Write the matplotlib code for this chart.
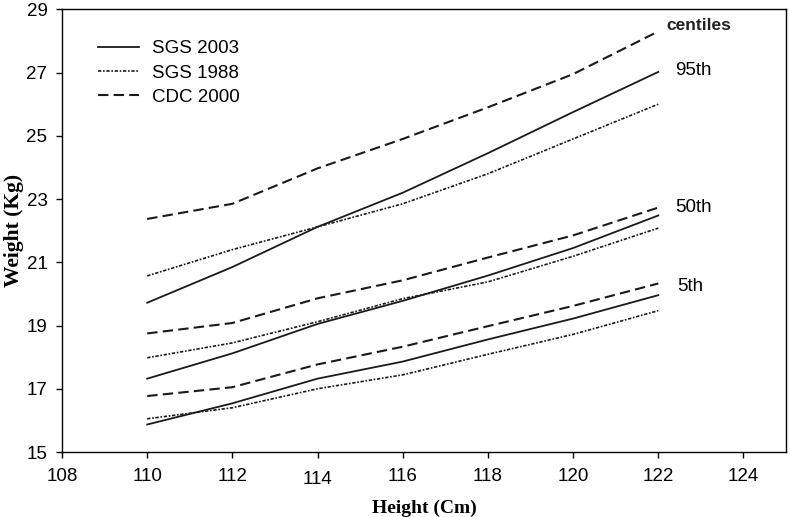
import matplotlib
matplotlib.use("Agg")
import matplotlib.pyplot as plt
from matplotlib.transforms import ScaledTranslation

# ---- data ----
height = [110, 112, 114, 116, 118, 120, 122]

sgs2003_p95 = [19.72, 20.85, 22.12, 23.20, 24.45, 25.75, 27.02]
sgs2003_p50 = [17.32, 18.12, 19.05, 19.78, 20.58, 21.45, 22.48]
sgs2003_p5 = [15.87, 16.54, 17.32, 17.86, 18.56, 19.22, 19.96]

sgs1988_p95 = [20.57, 21.40, 22.12, 22.85, 23.80, 24.90, 26.00]
sgs1988_p50 = [17.98, 18.45, 19.12, 19.85, 20.38, 21.19, 22.08]
sgs1988_p5 = [16.05, 16.40, 17.00, 17.44, 18.09, 18.72, 19.47]

cdc2000_p95 = [22.37, 22.85, 23.97, 24.90, 25.90, 26.95, 28.30]
cdc2000_p50 = [18.75, 19.08, 19.86, 20.43, 21.15, 21.85, 22.73]
cdc2000_p5 = [16.77, 17.05, 17.77, 18.33, 18.98, 19.62, 20.33]

x_ticks = [108, 110, 112, 114, 116, 118, 120, 122, 124]
y_ticks = [15, 17, 19, 21, 23, 25, 27, 29]
series_names = ["SGS 2003", "SGS 1988", "CDC 2000"]
centile_labels = ["95th", "50th", "5th"]

# ---- figure ----
plt.rcParams['font.family'] = ['Liberation Sans', 'DejaVu Sans']
fig = plt.figure(figsize=(7.9, 5.17), dpi=100)
ax = fig.add_axes([0.0785, 0.1257, 0.9165, 0.8563])

col = "#1a1a1a"
sty_sgs03 = dict(color=col, lw=1.3, linestyle="-")
sty_sgs88 = dict(color=col, lw=1.2, linestyle=(0, (2, 1, 1, 1)))
sty_cdc = dict(color=col, lw=1.5, linestyle=(0, (5, 2.5)))

l1, = ax.plot(height, sgs2003_p95, **sty_sgs03)
ax.plot(height, sgs2003_p50, **sty_sgs03)
ax.plot(height, sgs2003_p5, **sty_sgs03)

l2, = ax.plot(height, sgs1988_p95, **sty_sgs88)
ax.plot(height, sgs1988_p50, **sty_sgs88)
ax.plot(height, sgs1988_p5, **sty_sgs88)

l3, = ax.plot(height, cdc2000_p95, **sty_cdc)
ax.plot(height, cdc2000_p50, **sty_cdc)
ax.plot(height, cdc2000_p5, **sty_cdc)

ax.set_xlim(108, 125)
ax.set_ylim(15, 29)
ax.set_xticks(x_ticks)
ax.set_yticks(y_ticks)
ax.tick_params(axis='both', direction='out', length=4.5, width=1.0,
               labelsize=13.5, colors='black')
ax.tick_params(axis='x', pad=7)
ax.tick_params(axis='y', pad=6)
for s in ax.spines.values():
    s.set_linewidth(1.0)
    s.set_color('black')

# the "114" label sits slightly lower in the reference
for lbl in ax.get_xticklabels():
    if lbl.get_text() == "114":
        lbl.set_transform(lbl.get_transform() +
                          ScaledTranslation(0, -2.5 / 72, fig.dpi_scale_trans))

ax.set_xlabel("Height (Cm)", family="Liberation Serif", fontweight="bold",
              fontsize=14, labelpad=8)
ax.set_ylabel("Weight (Kg)", family="Liberation Serif", fontweight="bold",
              fontsize=15.5, labelpad=2)

leg = ax.legend([l1, l2, l3], series_names, loc="upper left",
                bbox_to_anchor=(0.05, 0.93), frameon=False, fontsize=13.5,
                handlelength=2.2, handletextpad=0.65, labelspacing=0.38,
                borderpad=0, borderaxespad=0)

# centile annotations at right end of curves
ax.text(122.2, cdc2000_p95[-1] + 0.2, "centiles", fontsize=12.5,
        fontweight="bold", va="center", ha="left", color="#222222")
ax.text(122.4, sgs2003_p95[-1] + 0.05, centile_labels[0], fontsize=13.5,
        va="center", ha="left")
ax.text(122.4, cdc2000_p50[-1], centile_labels[1], fontsize=13.5,
        va="center", ha="left")
ax.text(122.45, cdc2000_p5[-1] - 0.1, centile_labels[2], fontsize=13.5,
        va="center", ha="left")

fig.savefig("out.png", dpi=100)
